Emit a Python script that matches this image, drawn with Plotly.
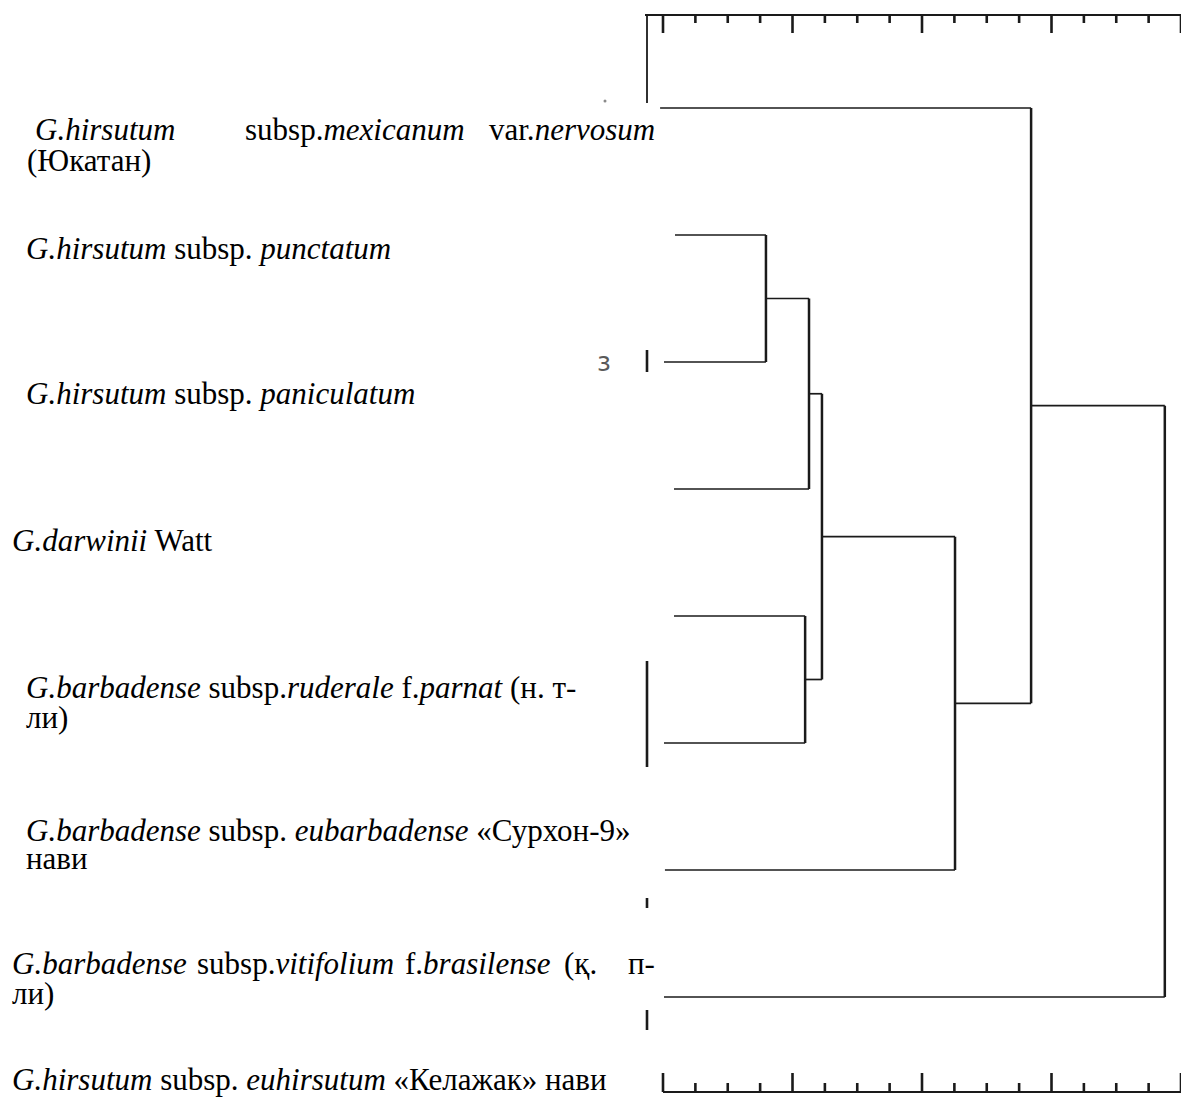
import plotly.graph_objects as go

# The page body has an 8px margin, so the figure is drawn 8px inset.
PAGE_W, PAGE_H, OFF = 1189, 1097, 8
FW, FH = PAGE_W - OFF, PAGE_H - OFF

# ---------------- data ----------------
leaf_names = [
    "G.hirsutum subsp.mexicanum var.nervosum (Юкатан)",
    "G.hirsutum subsp. punctatum",
    "G.hirsutum subsp. paniculatum",
    "G.darwinii Watt",
    "G.barbadense subsp.ruderale f.parnat (н. т-ли)",
    "G.barbadense subsp. eubarbadense «Сурхон-9» нави",
    "G.barbadense subsp.vitifolium f.brasilense (қ. п-ли)",
    "G.hirsutum subsp. euhirsutum «Келажак» нави",
]
# linkage: clusters 0..7 are leaves (rows of the tree), 8.. are merges in order
merge_left = [1, 8, 4, 9, 11, 0, 13]
merge_right = [2, 3, 5, 10, 6, 12, 7]
merge_dist = [3.18, 4.51, 4.39, 4.91, 9.02, 11.37, 15.50]
leaf_start = [-0.09, 0.37, 0.03, 0.34, 0.34, 0.03, 0.06, 0.03]
scale_ticks = list(range(0, 17))
major_every = 4

# label text (rich text lines / words)
label_texts = [
    "<i>G.hirsutum</i>", "subsp.<i>mexicanum</i>", "var.<i>nervosum</i>", "(Юкатан)",
    "<i>G.hirsutum</i> subsp. <i>punctatum</i>",
    "<i>G.hirsutum</i> subsp. <i>paniculatum</i>",
    "<i>G.darwinii</i> Watt",
    "<i>G.barbadense</i> subsp.<i>ruderale</i> f.<i>parnat</i> (н. т-", "ли)",
    "<i>G.barbadense</i> subsp. <i>eubarbadense</i> «Сурхон-9»", "нави",
    "<i>G.barbadense</i>", "subsp.<i>vitifolium</i>", "f.<i>brasilense</i>", "(қ.", "п-", "ли)",
    "<i>G.hirsutum</i> subsp. <i>euhirsutum</i> «Келажак» нави",
]
# ---------------- layout (page pixels) ----------------
label_place = [
    (33, 130, "left"), (243, 130, "left"), (657, 130, "right"), (25, 160, "left"),
    (24, 248, "left"),
    (24, 393, "left"),
    (10, 540, "left"),
    (24, 687, "left"), (24, 717, "left"),
    (24, 830, "left"), (24, 858, "left"),
    (10, 963, "left"), (195, 963, "left"), (403, 963, "left"), (562, 963, "left"), (657, 963, "right"), (10, 993, "left"),
    (10, 1079, "left"),
]
FONT_SIZE = 31

X0_PX, UNIT_PX = 663.0, 32.375   # distance 0 position and px per unit (page px)
Y0_PX, LEAF_PX = 108.0, 127.0    # first leaf row and row spacing (page px)


def ux(p):
    return (p - X0_PX) / UNIT_PX


def uy(p):
    return (p - Y0_PX) / LEAF_PX


XR = [ux(OFF), ux(PAGE_W)]
YR = [uy(PAGE_H), uy(OFF)]

# ---------------- dendrogram geometry ----------------
pos = {i: (leaf_start[i], float(i)) for i in range(len(leaf_names))}
hx, hy, vx, vy = [], [], [], []
for k, (a, b, d) in enumerate(zip(merge_left, merge_right, merge_dist)):
    xa, ya = pos[a]
    xb, yb = pos[b]
    hx += [xa, d, None, xb, d, None]
    hy += [ya, ya, None, yb, yb, None]
    vx += [d, d, None]
    vy += [ya, yb, None]
    pos[len(leaf_names) + k] = (d, (ya + yb) / 2)

fig = go.Figure()
INK = "#1a1a1a"
fig.add_trace(go.Scatter(x=hx, y=hy, mode="lines", line=dict(color=INK, width=1.7),
                         hoverinfo="skip", showlegend=False))
fig.add_trace(go.Scatter(x=vx, y=vy, mode="lines", line=dict(color=INK, width=2.5),
                         hoverinfo="skip", showlegend=False))

# ---------------- rulers ----------------
TOP, BOT = 15, 1092
rx = [ux(645), XR[1], None, ux(647), ux(647), None, 0, XR[1], None]
ry = [uy(TOP), uy(TOP), None, uy(TOP), uy(103), None, uy(BOT), uy(BOT), None]
fig.add_trace(go.Scatter(x=rx, y=ry, mode="lines", line=dict(color=INK, width=1.8),
                         hoverinfo="skip", showlegend=False))
tx, ty = [], []
for t in scale_ticks:
    major = (t % major_every == 0)
    tx += [t, t, None, t, t, None]
    ty += [uy(TOP), uy(TOP + (18 if major else 8)), None,
           uy(BOT), uy(BOT - (19 if major else 9)), None]
fig.add_trace(go.Scatter(x=tx, y=ty, mode="lines", line=dict(color=INK, width=2.6),
                         hoverinfo="skip", showlegend=False))

# stray marks at the left edge of the tree
sx, sy = [], []
for a, b in [(350, 372), (661, 767), (898, 908), (1010, 1030)]:
    sx += [ux(647), ux(647), None]
    sy += [uy(a), uy(b), None]
fig.add_trace(go.Scatter(x=sx, y=sy, mode="lines", line=dict(color=INK, width=2.6),
                         hoverinfo="skip", showlegend=False))
fig.add_trace(go.Scatter(x=[ux(605)], y=[uy(101)], mode="markers",
                         marker=dict(color="#8a8a8a", size=3), hoverinfo="skip", showlegend=False))

annotations = []
for txt, (xp, yp, anc) in zip(label_texts, label_place):
    annotations.append(dict(x=(xp - OFF) / FW, y=1 - (yp - OFF) / FH, xref="paper", yref="paper",
                            text=txt, showarrow=False, xanchor=anc, yanchor="middle",
                            font=dict(family="Liberation Serif", size=FONT_SIZE, color="black")))
annotations.append(dict(x=(604 - OFF) / FW, y=1 - (362 - OFF) / FH, xref="paper", yref="paper",
                        text="з", showarrow=False, xanchor="center", yanchor="middle",
                        font=dict(family="DejaVu Sans", size=26, color="#5a5a5a")))

fig.update_layout(
    width=FW, height=FH, margin=dict(l=0, r=0, t=0, b=0),
    paper_bgcolor="white", plot_bgcolor="white",
    xaxis=dict(range=XR, visible=False, fixedrange=True),
    yaxis=dict(range=YR, visible=False, fixedrange=True),
    annotations=annotations,
    showlegend=False,
)
fig.write_html("out.html")
